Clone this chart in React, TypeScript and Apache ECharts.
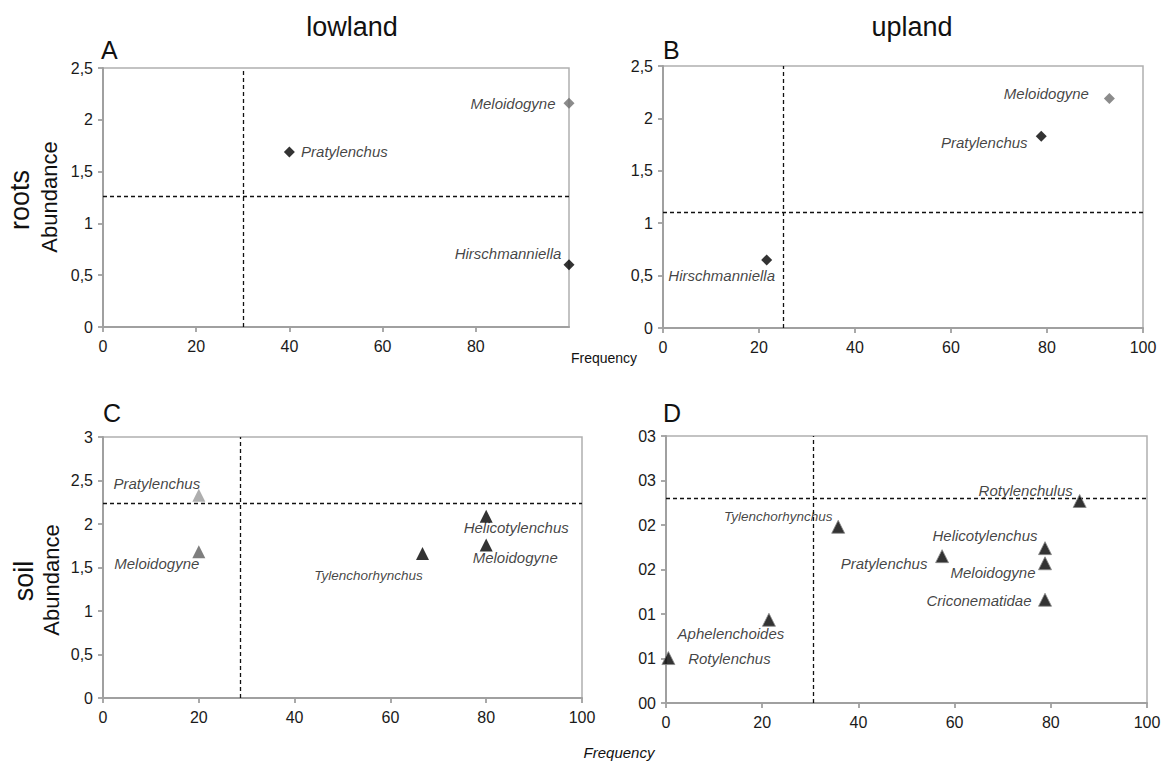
import React, { useEffect, useRef } from "react";
import * as echarts from "echarts";

// ---- Data ----
// Panel A: roots, lowland
const aNames = ["Meloidogyne", "Pratylenchus", "Hirschmanniella"];
const aFreq = [100, 40, 100];
const aAbund = [2.16, 1.69, 0.6];
const aCut = [30, 1.26];

// Panel B: roots, upland
const bNames = ["Meloidogyne", "Pratylenchus", "Hirschmanniella"];
const bFreq = [93, 78.8, 21.6];
const bAbund = [2.19, 1.83, 0.65];
const bCut = [25, 1.1];

// Panel C: soil, lowland
const cNames = ["Pratylenchus", "Meloidogyne", "Tylenchorhynchus", "Helicotylenchus", "Meloidogyne"];
const cFreq = [20, 20, 66.7, 80, 80];
const cAbund = [2.33, 1.68, 1.66, 2.09, 1.76];
const cCut = [28.6, 2.24];

// Panel D: soil, upland
const dNames = ["Rotylenchulus", "Tylenchorhynchus", "Helicotylenchus", "Pratylenchus", "Meloidogyne", "Criconematidae", "Aphelenchoides", "Rotylenchus"];
const dFreq = [86, 35.8, 78.8, 57.4, 78.8, 78.8, 21.4, 0.5];
const dAbund = [0.227, 0.198, 0.174, 0.165, 0.157, 0.116, 0.0935, 0.0505];
const dCut = [30.6, 0.2256];

const xTicks = [0, 20, 40, 60, 80, 100];
const dTickLabels = ["00", "01", "01", "02", "02", "03", "03"];

// ---- Styles / layout (not data) ----
const aColors = ["#6e6e6e", "#000", "#000"];
const bColors = ["#6e6e6e", "#000", "#000"];
const cColors = ["#9a9a9a", "#5e5e5e", "#000", "#000", "#000"];
const dColors = ["#000", "#000", "#000", "#000", "#000", "#000", "#000", "#000"];

const aOffsets = [[-56, 0], [55, 0], [-61, -11]];
const bOffsets = [[-63, -5], [-57, 6], [-45, 16]];
const cOffsets = [[-42, -12], [-42, 12], [-54, 22], [30, 11], [29, 13]];
const dOffsets = [[-54, -10], [-60, -10], [-60, -13], [-58, 7], [-52, 9], [-66, 1], [-38, 14], [61, 0]];
const cSmall = [false, false, true, false, false];
const dSmall = [false, true, false, false, false, false, false, false];

const FONT = "'Liberation Sans', Arial, sans-serif";
const AXIS_COLOR = "#a0a0a0";

function comma(v: number) {
  return String(v).replace(".", ",");
}

export default function App() {
  const ref = useRef<HTMLDivElement>(null);

  useEffect(() => {
    if (!ref.current) return;
    const chart = echarts.init(ref.current, undefined, { renderer: "svg" });

    const grids = [
      { left: 103, top: 68, width: 466, height: 259 },
      { left: 663, top: 66, width: 480, height: 262 },
      { left: 103, top: 437, width: 479, height: 261 },
      { left: 666, top: 436, width: 481, height: 267 },
    ].map((g) => ({
      ...g,
      show: true,
      borderColor: "#b0b0b0",
      borderWidth: 1.5,
      backgroundColor: "transparent",
    }));

    const baseAxis = {
      type: "value" as const,
      axisLine: { show: true, onZero: false, lineStyle: { color: AXIS_COLOR, width: 2 } },
      axisTick: { show: true, inside: false, length: 5, lineStyle: { color: AXIS_COLOR, width: 1.8 } },
      splitLine: { show: false },
    };

    const xAxes = [0, 1, 2, 3].map((i) => ({
      ...baseAxis,
      gridIndex: i,
      min: xTicks[0],
      max: xTicks[xTicks.length - 1],
      interval: xTicks[1] - xTicks[0],
      axisLabel: {
        fontSize: 16,
        color: "#1a1a1a",
        fontFamily: FONT,
        margin: 11,
        showMaxLabel: i !== 0,
      },
    }));

    const yLab = { fontSize: 16, color: "#1a1a1a", fontFamily: FONT, margin: 10 };
    const yAxes = [
      { ...baseAxis, gridIndex: 0, min: 0, max: 2.5, interval: 0.5, axisLabel: { ...yLab, formatter: comma } },
      { ...baseAxis, gridIndex: 1, min: 0, max: 2.5, interval: 0.5, axisLabel: { ...yLab, formatter: comma } },
      { ...baseAxis, gridIndex: 2, min: 0, max: 3, interval: 0.5, axisLabel: { ...yLab, formatter: comma } },
      {
        ...baseAxis,
        gridIndex: 3,
        min: 0,
        max: 0.3,
        interval: 0.05,
        axisLabel: { ...yLab, formatter: (v: number) => dTickLabels[Math.round(v / 0.05)] ?? "" },
      },
    ];

    const makeSeries = (
      idx: number,
      names: string[],
      xs: number[],
      ys: number[],
      cut: number[],
      colors: string[],
      offsets: number[][],
      symbol: string,
      size: number,
      small?: boolean[],
      border?: string
    ) => ({
      type: "scatter",
      xAxisIndex: idx,
      yAxisIndex: idx,
      symbol,
      symbolSize: size,
      z: 5,
      data: names.map((n, k) => ({
        name: n,
        value: [xs[k], ys[k]],
        itemStyle: { color: colors[k], borderColor: border ?? colors[k], borderWidth: border ? 1 : 0 },
        label: {
          show: true,
          position: "inside",
          offset: offsets[k],
          formatter: n,
          fontSize: small && small[k] ? 13.5 : 15,
          fontStyle: "italic",
          fontFamily: FONT,
          color: "#111",
          align: "center",
          verticalAlign: "middle",
        },
      })),
      markLine: {
        silent: true,
        symbol: "none",
        animation: false,
        label: { show: false },
        lineStyle: { type: [4, 3], color: "#111", width: 1.3 },
        data: [{ xAxis: cut[0] }, { yAxis: cut[1] }],
      },
    });

    const series = [
      makeSeries(0, aNames, aFreq, aAbund, aCut, aColors, aOffsets, "diamond", 11),
      makeSeries(1, bNames, bFreq, bAbund, bCut, bColors, bOffsets, "diamond", 11),
      makeSeries(2, cNames, cFreq, cAbund, cCut, cColors, cOffsets, "triangle", 13, cSmall),
      makeSeries(3, dNames, dFreq, dAbund, dCut, dColors, dOffsets, "triangle", 13, dSmall, "#8a8a8a"),
    ];

    const txt = (x: number, y: number, text: string, size: number, extra: any = {}) => ({
      type: "text",
      x,
      y,
      ...extra,
      style: {
        text,
        fontSize: size,
        fontFamily: FONT,
        fill: "#111",
        align: extra.align ?? "center",
        verticalAlign: "middle",
        fontStyle: extra.fontStyle ?? "normal",
      },
    });

    const graphic = [
      txt(352, 27, "lowland", 27),
      txt(912, 27, "upland", 27),
      txt(101, 50, "A", 25, { align: "left" }),
      txt(663, 50, "B", 25, { align: "left" }),
      txt(103, 413, "C", 25, { align: "left" }),
      txt(663, 413, "D", 25, { align: "left" }),
      txt(20, 200, "roots", 27, { rotation: Math.PI / 2 }),
      txt(49, 197, "Abundance", 22, { rotation: Math.PI / 2 }),
      txt(24, 581, "soil", 27, { rotation: Math.PI / 2 }),
      txt(51, 580, "Abundance", 22, { rotation: Math.PI / 2 }),
      txt(604, 358, "Frequency", 14),
      txt(619, 752, "Frequency", 15, { fontStyle: "italic" }),
    ];

    chart.setOption({
      animation: false,
      backgroundColor: "#fff",
      textStyle: { fontFamily: FONT },
      grid: grids,
      xAxis: xAxes,
      yAxis: yAxes,
      series,
      graphic,
    });

    return () => chart.dispose();
  }, []);

  return (
    <div
      ref={ref}
      style={{ position: "absolute", left: 0, top: 0, width: 1166, height: 762 }}
    />
  );
}
